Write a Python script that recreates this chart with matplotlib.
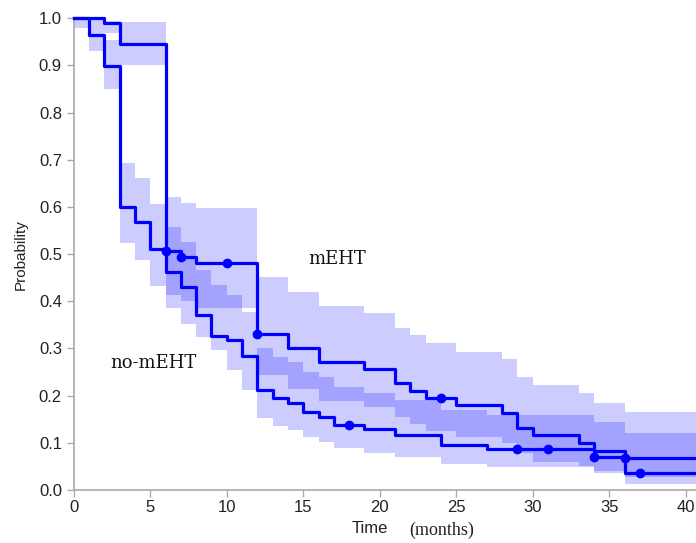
import numpy as np
import matplotlib
matplotlib.use("Agg")
import matplotlib.pyplot as plt

plt.rcParams['font.family'] = ['Liberation Sans', 'DejaVu Sans']

# mEHT curve (step times, survival, confidence band)
t_m = [0, 2, 3, 6, 7, 8, 12, 14, 16, 19, 21, 22, 23, 25, 28, 29, 30, 33, 34, 36]
s_m = [1.0, 0.99, 0.945, 0.507, 0.495, 0.482, 0.33, 0.30, 0.271, 0.256, 0.227,
       0.21, 0.196, 0.181, 0.163, 0.132, 0.116, 0.100, 0.083, 0.067]
lo_m = [1.0, 0.968, 0.90, 0.413, 0.401, 0.385, 0.243, 0.214, 0.189, 0.177, 0.155,
        0.14, 0.125, 0.113, 0.099, 0.078, 0.06, 0.05, 0.04, 0.028]
hi_m = [1.0, 0.995, 0.993, 0.622, 0.609, 0.597, 0.452, 0.42, 0.39, 0.376, 0.343,
        0.329, 0.311, 0.293, 0.277, 0.240, 0.223, 0.205, 0.184, 0.166]
cens_t_m = [6, 7, 10, 12, 24, 36]
cens_s_m = [0.507, 0.495, 0.482, 0.33, 0.196, 0.067]

# no-mEHT curve
t_n = [0, 1, 2, 3, 4, 5, 6, 7, 8, 9, 10, 11, 12, 13, 14, 15, 16, 17, 19, 21, 24, 27, 34, 36]
s_n = [1.0, 0.965, 0.898, 0.599, 0.569, 0.511, 0.463, 0.43, 0.371, 0.326, 0.319,
       0.285, 0.212, 0.194, 0.185, 0.166, 0.155, 0.138, 0.129, 0.117, 0.095,
       0.086, 0.071, 0.037]
lo_n = [0.979, 0.93, 0.85, 0.523, 0.488, 0.432, 0.385, 0.352, 0.325, 0.297, 0.254,
        0.213, 0.152, 0.136, 0.127, 0.112, 0.102, 0.088, 0.078, 0.071, 0.055,
        0.048, 0.037, 0.013]
hi_n = [1.0, 1.0, 0.955, 0.693, 0.661, 0.606, 0.558, 0.526, 0.466, 0.435, 0.413,
        0.378, 0.300, 0.283, 0.272, 0.251, 0.239, 0.219, 0.205, 0.19, 0.17,
        0.159, 0.145, 0.12]
cens_t_n = [18, 29, 31, 34, 37]
cens_s_n = [0.138, 0.086, 0.086, 0.071, 0.037]

x_max = 40.67
blue = '#0000ff'

fig = plt.figure(figsize=(6.96, 5.43), dpi=100)
ax = fig.add_axes([0.106, 0.0976, 0.894, 0.8687])

for t, s, lo, hi, ct, cs in [(t_m, s_m, lo_m, hi_m, cens_t_m, cens_s_m),
                             (t_n, s_n, lo_n, hi_n, cens_t_n, cens_s_n)]:
    tt = np.array(t + [x_max])
    ax.fill_between(tt, lo + [lo[-1]], hi + [hi[-1]], step='post',
                    color=blue, alpha=0.2, linewidth=0)
    ax.step(tt, s + [s[-1]], where='post', color=blue, linewidth=2.3,
            clip_on=False, zorder=3)
    ax.plot(ct, cs, 'o', color=blue, markersize=6, zorder=4)

ax.set_xlim(0, x_max)
ax.set_ylim(0, 1.0)
ax.set_xticks(np.arange(0, 41, 5))
ax.set_yticks(np.arange(0, 1.01, 0.1))
ax.yaxis.set_major_formatter(matplotlib.ticker.FormatStrFormatter('%.1f'))

for side in ['top', 'right']:
    ax.spines[side].set_visible(False)
for side in ['left', 'bottom']:
    ax.spines[side].set_color('#aaaaaa')
    ax.spines[side].set_linewidth(1.2)
ax.tick_params(colors='#aaaaaa', labelcolor='#222222', labelsize=12,
               length=5, width=1)
ax.tick_params(axis='x', pad=2)

ax.set_ylabel('Probability', fontsize=11, color='#222222', labelpad=8)
fig.text(0.531, 0.026, 'Time', fontsize=12, ha='center', va='center',
         color='#222222')
fig.text(0.635, 0.024, '(months)', fontsize=13, ha='center', va='center',
         color='#222222', family='Liberation Serif')

ax.text(17.2, 0.49, 'mEHT', fontsize=13, ha='center', va='center',
        family='DejaVu Serif', color='#111111')
ax.text(5.2, 0.27, 'no-mEHT', fontsize=13, ha='center', va='center',
        family='DejaVu Serif', color='#111111')

fig.savefig('out.png', dpi=100)
